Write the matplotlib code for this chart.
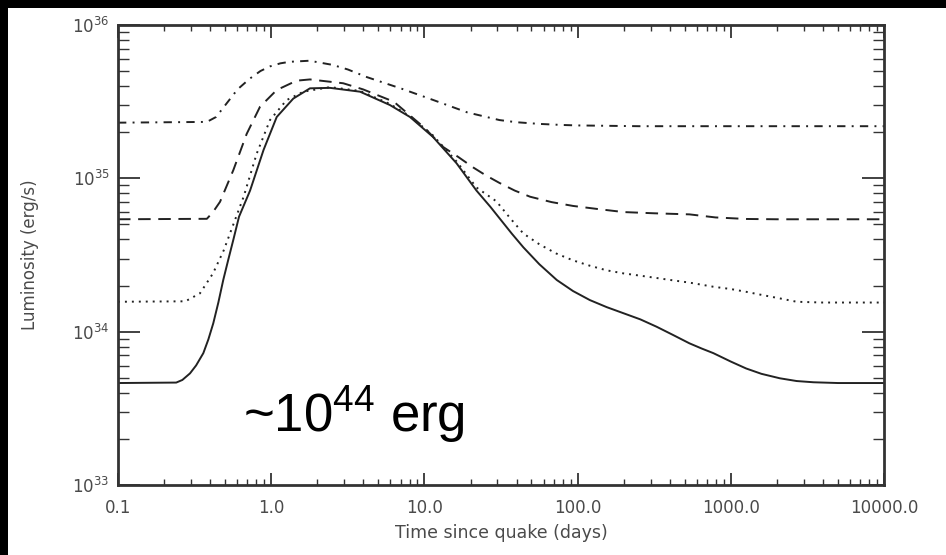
import numpy as np
import matplotlib
matplotlib.use("Agg")
import matplotlib.pyplot as plt
from matplotlib.patches import Rectangle
from matplotlib.ticker import FixedLocator, LogLocator, NullFormatter

plt.rcParams['lines.scale_dashes'] = False
plt.rcParams['mathtext.default'] = 'regular'

# valores: log10(t [dias]) y log10(L [erg/s])
t_solid = [-1.0, -0.62, -0.58, -0.53, -0.49, -0.443, -0.41, -0.378, -0.345, -0.313, -0.28,
           -0.247, -0.21, -0.138, -0.05, 0.036, 0.144, 0.253, 0.384, 0.58, 0.775, 0.906,
           1.056, 1.21, 1.34, 1.43, 1.49, 1.57, 1.646, 1.75, 1.864, 1.97, 2.08, 2.19, 2.30,
           2.41, 2.516, 2.62, 2.73, 2.81, 2.886, 3.0, 3.10, 3.2, 3.32, 3.43, 3.54, 3.7, 4.0]
L_solid = [33.665, 33.668, 33.685, 33.728, 33.78, 33.86, 33.95, 34.055, 34.19, 34.337, 34.47,
           34.6, 34.75, 34.92, 35.185, 35.40, 35.52, 35.587, 35.59, 35.565, 35.478, 35.40,
           35.27, 35.098, 34.92, 34.815, 34.74, 34.64, 34.55, 34.44, 34.337, 34.265, 34.206, 34.16, 34.12,
           34.08, 34.032, 33.98, 33.924, 33.89, 33.86, 33.805, 33.76, 33.725, 33.696, 33.678, 33.67,
           33.665, 33.665]

t_dot = [-1.0, -0.56, -0.465, -0.38, -0.31, -0.18, -0.095, -0.008, 0.10, 0.21, 0.384,
         0.58, 0.775, 0.906, 1.056, 1.21, 1.34, 1.47, 1.56, 1.646, 1.75, 1.86, 1.97, 2.08,
         2.19, 2.30, 2.41, 2.516, 2.62, 2.73, 2.886, 3.0, 3.10, 3.2, 3.32, 3.43, 3.6, 4.0]
L_dot = [34.195, 34.198, 34.25, 34.38, 34.53, 34.88, 35.16, 35.38, 35.51, 35.565, 35.595,
         35.57, 35.485, 35.405, 35.28, 35.11, 34.94, 34.85, 34.74, 34.64, 34.57, 34.51, 34.465, 34.43,
         34.40, 34.38, 34.365, 34.35, 34.335, 34.32, 34.293, 34.278, 34.26, 34.24, 34.217, 34.195,
         34.19, 34.19]

t_dash = [-1.0, -0.42, -0.38, -0.334, -0.247, -0.16, -0.073, 0.036, 0.166, 0.253, 0.47, 0.6,
          0.8, 1.0, 1.12, 1.22, 1.32, 1.40, 1.49, 1.59, 1.69, 1.83, 1.97, 2.13, 2.30, 2.5,
          2.73, 2.9, 3.10, 3.3, 4.0]
L_dash = [34.733, 34.736, 34.78, 34.847, 35.054, 35.29, 35.467, 35.576, 35.637, 35.645, 35.62,
          35.58, 35.50, 35.33, 35.206, 35.14, 35.07, 35.02, 34.97, 34.92, 34.88, 34.845, 34.82,
          34.80, 34.78, 34.772, 34.765, 34.745, 34.735, 34.733, 34.733]

t_dd = [-1.0, -0.42, -0.36, -0.29, -0.22, -0.14, -0.07, -0.008, 0.06, 0.12, 0.25, 0.40,
        0.5, 0.625, 0.85, 1.06, 1.28, 1.49, 1.6, 1.75, 1.9, 2.0, 2.4, 4.0]
L_dd = [35.363, 35.368, 35.40, 35.49, 35.58, 35.65, 35.70, 35.73, 35.75, 35.76, 35.767, 35.74,
        35.71, 35.66, 35.585, 35.51, 35.43, 35.38, 35.366, 35.355, 35.348, 35.345, 35.34, 35.34]

xticks = [0.1, 1.0, 10.0, 100.0, 1000.0, 10000.0]
xlabels = ['0.1', '1.0', '10.0', '100.0', '1000.0', '10000.0']
yticks = [1e33, 1e34, 1e35, 1e36]
ylabels = ['10$^{33}$', '10$^{34}$', '10$^{35}$', '10$^{36}$']

fig = plt.figure(figsize=(9.46, 5.55), dpi=100)
fig.patch.set_facecolor('black')
fig.add_artist(Rectangle((8/946, 0), 1, 547/555, transform=fig.transFigure,
                         facecolor='white', edgecolor='none', zorder=-10))

ax = fig.add_axes([118/946, 70/555, 766/946, 460/555])
ax.set_facecolor('white')
ax.set_xscale('log')
ax.set_yscale('log')

col = '#222222'
ax.plot(10**np.array(t_solid), 10**np.array(L_solid), '-', color=col, lw=1.4)
ax.plot(10**np.array(t_dot), 10**np.array(L_dot), color=col, lw=1.4, dashes=(1.4, 3.6))
ax.plot(10**np.array(t_dash), 10**np.array(L_dash), color=col, lw=1.4, dashes=(9, 5.5))
ax.plot(10**np.array(t_dd), 10**np.array(L_dd), color=col, lw=1.4, dashes=(6, 4.5, 1.4, 4.5))

ax.set_xlim(0.1, 10000)
ax.set_ylim(1e33, 1e36)

tcol = '#4a4a4a'
ax.xaxis.set_major_locator(FixedLocator(xticks))
ax.set_xticklabels(xlabels, fontsize=12, color=tcol)
ax.yaxis.set_major_locator(FixedLocator(yticks))
ax.set_yticklabels(ylabels, fontsize=12, color=tcol)
ax.xaxis.set_minor_locator(LogLocator(base=10, subs=np.arange(2, 10), numticks=20))
ax.yaxis.set_minor_locator(LogLocator(base=10, subs=np.arange(2, 10), numticks=20))
ax.xaxis.set_minor_formatter(NullFormatter())
ax.yaxis.set_minor_formatter(NullFormatter())

ax.tick_params(axis='x', which='major', direction='in', length=9, width=1.3,
               top=True, bottom=True, color='#333333', pad=10)
ax.tick_params(axis='x', which='minor', direction='in', length=4, width=1.0,
               top=True, bottom=True, color='#333333')
ax.tick_params(axis='y', which='major', direction='in', length=16, width=1.3,
               left=True, right=True, color='#333333', pad=6)
ax.tick_params(axis='y', which='minor', direction='in', length=8, width=1.0,
               left=True, right=True, color='#333333')
for s in ax.spines.values():
    s.set_linewidth(2.0)
    s.set_color('#333333')

ax.set_xlabel('Time since quake (days)', fontsize=12.5, color=tcol)
ax.xaxis.set_label_coords(0.5, -0.085)
ax.set_ylabel('Luminosity (erg/s)', fontsize=12, color=tcol)
ax.yaxis.set_label_coords(-0.103, 0.5)

ax.text(0.163, 0.115, '~10$^{44}$ erg', transform=ax.transAxes, fontsize=38,
        family='Liberation Sans', color='black', ha='left', va='baseline')

plt.savefig('out.png', dpi=100, facecolor=fig.get_facecolor())
plt.close()
